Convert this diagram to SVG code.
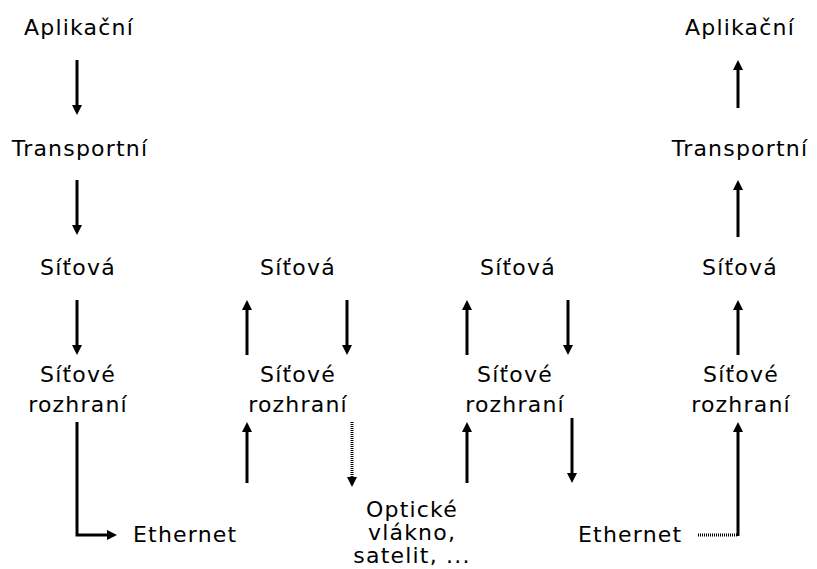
<svg xmlns="http://www.w3.org/2000/svg" width="817" height="569" viewBox="0 0 817 569">
<style>
text{font-family:"DejaVu Sans","Verdana",sans-serif;font-size:22px;fill:#000;text-anchor:middle;letter-spacing:1.2px}
.s{text-anchor:start}
.c{stroke:#000;stroke-width:3;fill:none;marker-end:url(#ah)}
.d{stroke-dasharray:1 1}
</style>
<defs>
<marker id="ah" markerUnits="userSpaceOnUse" markerWidth="10" markerHeight="10" viewBox="0 0 10 10" refX="4" refY="5" orient="auto">
<path d="M0,0 L10,5 L0,10 z" fill="#000"/>
</marker>
</defs>
<rect width="817" height="569" fill="#fff"/>
<g id="n-app1"><text x="79" y="35">Aplikační</text></g>
<g id="n-tr1"><text x="80" y="156">Transportní</text></g>
<g id="n-net1"><text x="78" y="275">Síťová</text></g>
<g id="n-if1"><text x="78" y="382">Síťové</text><text x="78" y="412">rozhraní</text></g>
<g id="n-eth1"><text class="s" x="133" y="542">Ethernet</text></g>
<g id="n-net2"><text x="298" y="275">Síťová</text></g>
<g id="n-if2"><text x="298" y="382">Síťové</text><text x="298" y="412">rozhraní</text></g>
<g id="n-opt"><text x="412" y="517">Optické</text><text x="412" y="540">vlákno,</text><text x="412" y="563">satelit, ...</text></g>
<g id="n-net3"><text x="518" y="275">Síťová</text></g>
<g id="n-if3"><text x="515" y="382">Síťové</text><text x="515" y="412">rozhraní</text></g>
<g id="n-eth2"><text class="s" x="578" y="542">Ethernet</text></g>
<g id="n-app2"><text x="740" y="35">Aplikační</text></g>
<g id="n-tr2"><text x="740" y="156">Transportní</text></g>
<g id="n-net4"><text x="740" y="275">Síťová</text></g>
<g id="n-if4"><text x="741" y="382">Síťové</text><text x="741" y="412">rozhraní</text></g>
<g id="connectors">
<path class="c" d="M77,60 V109"/>
<path class="c" d="M77,180 V229"/>
<path class="c" d="M77,300 V349"/>
<path class="c" d="M77,422 V535 H111"/>
<path class="c" d="M247,355 V306"/>
<path class="c" d="M347,300 V349"/>
<path class="c" d="M247,483 V428"/>
<path class="c d" d="M352,422 V481"/>
<path class="c" d="M467,355 V306"/>
<path class="c" d="M568,300 V349"/>
<path class="c" d="M467,483 V428"/>
<path class="c" d="M572,418 V477"/>
<path class="c" d="M738,108 V66"/>
<path class="c" d="M738,237 V186"/>
<path class="c" d="M738,355 V306"/>
<path stroke="#000" stroke-width="3" fill="none" class="d" d="M698,535 H738"/>
<path class="c" d="M738,536 V428"/>
</g>
</svg>
